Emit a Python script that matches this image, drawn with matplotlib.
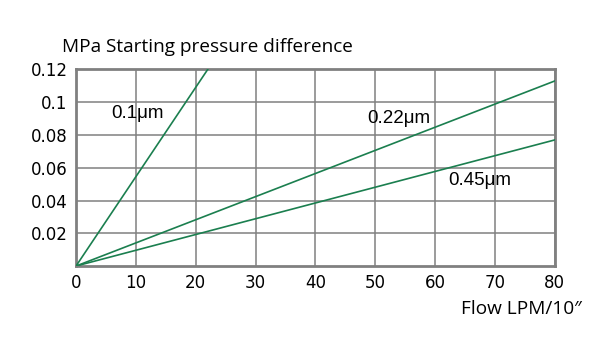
#!/usr/bin/env python3
import matplotlib
matplotlib.use("Agg")
import matplotlib.pyplot as plt

# flow (LPM/10") vs starting pressure difference (MPa)
series_names = ["0.1μm", "0.22μm", "0.45μm"]
series_flow = [[0, 22], [0, 80], [0, 80]]
series_dp = [[0, 0.12], [0, 0.113], [0, 0.077]]
label_pos = [(10.2, 0.093), (53.9, 0.090), (67.5, 0.052)]

xticks = [0, 10, 20, 30, 40, 50, 60, 70, 80]
yticks = [0.02, 0.04, 0.06, 0.08, 0.1, 0.12]
yticklabels = ["0.02", "0.04", "0.06", "0.08", "0.1", "0.12"]

green = "#1b7f4f"
grid_c = "#808080"

fig = plt.figure(figsize=(6, 3.6), dpi=100)
ax = fig.add_axes([0.1267, 0.261, 0.798, 0.546])

for fx, dp in zip(series_flow, series_dp):
    ax.plot(fx, dp, color=green, lw=1.2, clip_on=True, zorder=3)

for name, (lx, ly) in zip(series_names, label_pos):
    ax.text(lx, ly, name, ha="center", va="center", fontsize=13.5,
            family=["Liberation Sans", "DejaVu Sans"], zorder=4)

ax.set_xlim(0, 80)
ax.set_ylim(0, 0.12)
ax.set_xticks(xticks)
ax.set_yticks(yticks)
ax.set_yticklabels(yticklabels)
ax.tick_params(length=0, labelsize=12, pad=6)
for lab in ax.get_xticklabels() + ax.get_yticklabels():
    lab.set_family("DejaVu Sans")
ax.grid(True, color=grid_c, lw=1.1)
ax.set_axisbelow(True)
for sp in ax.spines.values():
    sp.set_color(grid_c)
    sp.set_linewidth(2)

fig.text(62 / 600, 1 - 47 / 360, "MPa Starting pressure difference",
         ha="left", va="center", fontsize=13.7, family="Open Sans")
fig.text(582 / 600, 1 - 309 / 360, "Flow LPM/10″",
         ha="right", va="center", fontsize=13.7, family="Open Sans")

fig.savefig("out.png", dpi=100)
